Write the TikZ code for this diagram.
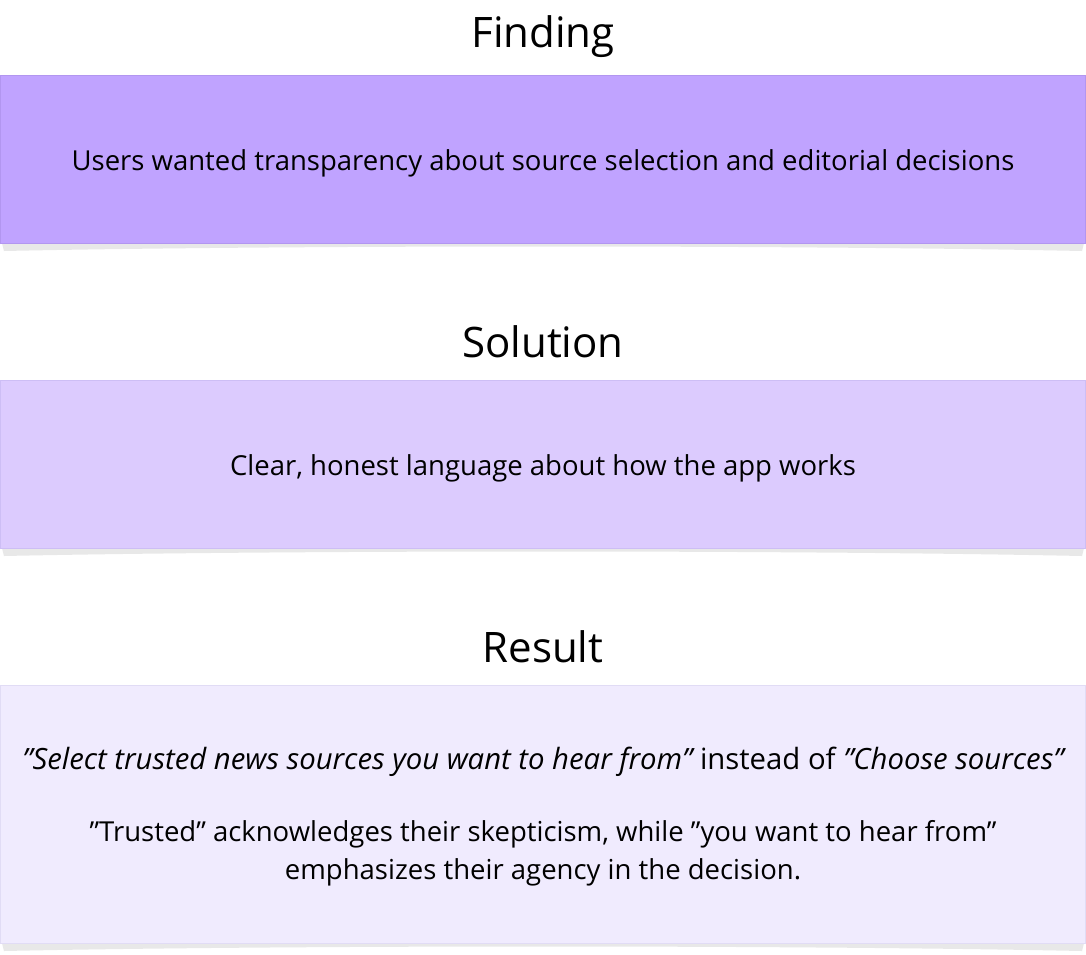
\documentclass[tikz,border=0pt]{standalone}
\usepackage{fontspec}
\setmainfont{Open Sans}[Ligatures=ResetAll]
\newcommand\qq{"}
\begin{document}
\begin{tikzpicture}[x=1pt,y=-1pt,
  ttl/.style={font=\fontsize{42}{44}\selectfont},
  body/.style={font=\fontsize{27.5}{38}\selectfont, align=center}]
\useasboundingbox[fill=white] (0,0) rectangle (1086,954);
\definecolor{cA}{RGB}{192,163,255}
\definecolor{cB}{RGB}{220,203,254}
\definecolor{cC}{RGB}{240,235,254}
\definecolor{eA}{RGB}{178,150,240}
\definecolor{eB}{RGB}{205,190,245}
\definecolor{eC}{RGB}{225,220,245}
\foreach \yb in {243,548,943}{
  \fill[black!9] (2,\yb) -- (1084,\yb) -- (1082,\yb+8) .. controls (800,\yb+2) and (286,\yb+2) .. (4,\yb+8) -- cycle;
}
\node[ttl] (t1) at (543,37) {Finding};
\node[ttl] (t2) at (543,342) {Solution};
\node[ttl] (t3) at (543,647) {Result};
\filldraw[fill=cA, draw=eA] (0.5,75) rectangle (1085.5,243);
\filldraw[fill=cB, draw=eB] (0.5,380) rectangle (1085.5,548);
\filldraw[fill=cC, draw=eC] (0.5,685) rectangle (1085.5,943);
\node[body] (b1) at (543,163) {Users wanted transparency about source selection and editorial decisions};
\node[body] (b2) at (543,468) {Clear, honest language about how the app works};
\node[body, font=\fontsize{29.3}{38}\selectfont] (b3a) at (543,762) {\itshape \qq Select trusted news sources you want to hear from\qq\upshape{} instead of \itshape\qq Choose sources\qq};
\node[body] (b3b) at (543,853) {\qq Trusted\qq{} acknowledges their skepticism, while \qq you want to hear from\qq\\emphasizes their agency in the decision.};
\end{tikzpicture}
\end{document}
